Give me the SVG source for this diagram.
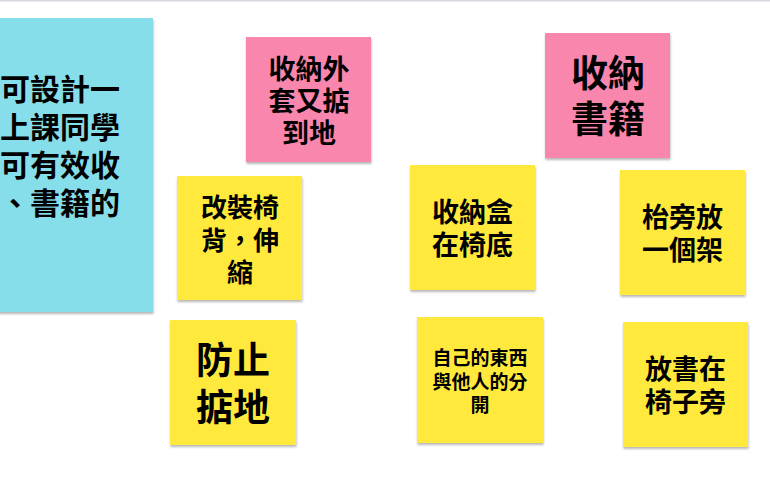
<svg xmlns="http://www.w3.org/2000/svg" width="770" height="480" viewBox="0 0 770 480">
<defs>
<filter id="sh" x="-10%" y="-10%" width="120%" height="125%">
<feDropShadow dx="0.5" dy="2" stdDeviation="1.2" flood-color="#000" flood-opacity="0.28"/>
</filter>
<style>
.t{font-family:"Noto Sans CJK TC","Noto Sans CJK SC",sans-serif;font-weight:700;fill:#000;text-anchor:middle}
.y{fill:#FFE93D;filter:url(#sh)}
.p{fill:#F986AD;filter:url(#sh)}
.c{fill:#86DEEA;filter:url(#sh)}
</style>
</defs>
<rect x="0" y="0" width="770" height="480" fill="#fff"/>
<rect x="0" y="0" width="770" height="1.5" fill="#D8D8E0"/>
<g id="connectors"/>
<g id="topic">
<rect class="c" x="-5" y="18" width="158" height="294"/>
<g class="t" style="font-size:30px;text-anchor:start">
<text x="0" y="100">可設計一</text>
<text x="0" y="138">上課同學</text>
<text x="0" y="176">可有效收</text>
<text x="0" y="214">、書籍的</text>
</g>
</g>
<g id="n1">
<rect class="p" x="246" y="37" width="125" height="125"/>
<g class="t" style="font-size:27px">
<text x="309" y="79">收納外</text>
<text x="309" y="111">套又掂</text>
<text x="309" y="143">到地</text>
</g>
</g>
<g id="n2">
<rect class="p" x="545" y="33" width="125" height="125"/>
<g class="t" style="font-size:37px">
<text x="608" y="87">收納</text>
<text x="608" y="133">書籍</text>
</g>
</g>
<g id="n3">
<rect class="y" x="177" y="176" width="125" height="124"/>
<g class="t" style="font-size:26px">
<text x="240" y="217">改裝椅</text>
<text x="240" y="250">背，伸</text>
<text x="240" y="282">縮</text>
</g>
</g>
<g id="n4">
<rect class="y" x="410" y="165" width="125" height="125"/>
<g class="t" style="font-size:27px">
<text x="472.5" y="222">收納盒</text>
<text x="472.5" y="255">在椅底</text>
</g>
</g>
<g id="n5">
<rect class="y" x="620" y="170" width="125" height="125"/>
<g class="t" style="font-size:27px">
<text x="682.5" y="227">枱旁放</text>
<text x="682.5" y="260">一個架</text>
</g>
</g>
<g id="n6">
<rect class="y" x="170" y="320" width="126" height="125"/>
<g class="t" style="font-size:37px">
<text x="233" y="374">防止</text>
<text x="233" y="421">掂地</text>
</g>
</g>
<g id="n7">
<rect class="y" x="417" y="317" width="126" height="126"/>
<g class="t" style="font-size:19px">
<text x="480" y="365">自己的東西</text>
<text x="480" y="389">與他人的分</text>
<text x="480" y="412">開</text>
</g>
</g>
<g id="n8">
<rect class="y" x="623" y="322" width="125" height="125"/>
<g class="t" style="font-size:27px">
<text x="685.5" y="379">放書在</text>
<text x="685.5" y="412">椅子旁</text>
</g>
</g>
</svg>
